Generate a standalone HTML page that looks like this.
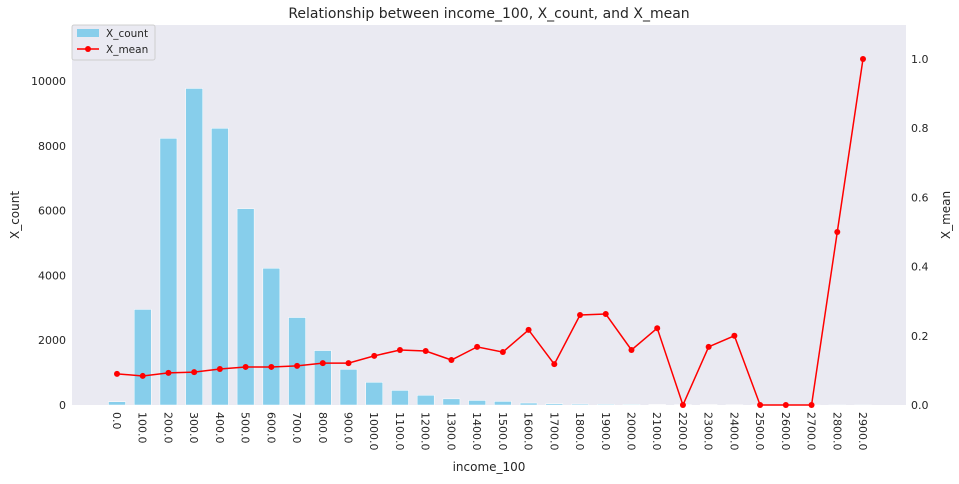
<!DOCTYPE html>
<html><head><meta charset="utf-8"><style>
body{margin:0;background:#fff;font-family:"DejaVu Sans","Liberation Sans",sans-serif;}
svg text{font-family:"DejaVu Sans","Liberation Sans",sans-serif;fill:#262626;}
</style></head><body>
<svg id="chart" width="959" height="480" xmlns="http://www.w3.org/2000/svg">
<rect x="72" y="25" width="834" height="380" fill="#EAEAF2"/>
<g id="bars"></g><g id="line"></g><g id="axes"></g>
<text x="489" y="18" font-size="14" text-anchor="middle">Relationship between income_100, X_count, and X_mean</text>
<text x="489" y="471" font-size="12" text-anchor="middle">income_100</text>
<text transform="translate(19,215) rotate(-90)" font-size="12" text-anchor="middle">X_count</text>
<text transform="translate(950,215) rotate(-90)" font-size="12" text-anchor="middle">X_mean</text>
<g>
<rect x="72" y="25" width="83" height="35" fill="#EAEAF2" stroke="#ccc" opacity="0.9" rx="2"/>
<rect x="77" y="29" width="22" height="8" fill="#87CEEB"/>
<text x="106" y="37" font-size="10.5">X_count</text>
<line x1="77" y1="49" x2="99" y2="49" stroke="red" stroke-width="1.5"/>
<circle cx="88" cy="49" r="3" fill="red"/>
<text x="106" y="53" font-size="10.5">X_mean</text>
</g>
</svg>
<script>
const categories=[0,100,200,300,400,500,600,700,800,900,1000,1100,1200,1300,1400,1500,1600,1700,1800,1900,2000,2100,2200,2300,2400,2500,2600,2700,2800,2900];
const counts=[100,2950,8230,9770,8540,6060,4220,2700,1680,1100,700,450,300,190,140,110,60,40,30,25,20,15,10,12,8,5,4,3,2,1];
const means=[0.09,0.084,0.093,0.095,0.104,0.11,0.11,0.113,0.121,0.121,0.142,0.159,0.156,0.13,0.168,0.153,0.217,0.118,0.26,0.263,0.159,0.222,0,0.168,0.2,0,0,0,0.5,1.0];
const leftTicks=[0,2000,4000,6000,8000,10000];
const rightTicks=[0,0.2,0.4,0.6,0.8,1.0];
const NS="http://www.w3.org/2000/svg";
const x0=117,x1=863,bottom=405;
const xs=i=>x0+(x1-x0)*i/(categories.length-1);
const yL=v=>bottom-v*(324/10000);
const yR=v=>bottom-v*346;
function mk(tag,attrs,parent){const e=document.createElementNS(NS,tag);for(const k in attrs)e.setAttribute(k,attrs[k]);parent.appendChild(e);return e;}
const bars=document.getElementById('bars'),line=document.getElementById('line'),axes=document.getElementById('axes');
const bw=17;
counts.forEach((c,i)=>{const r=mk('rect',{x:xs(i)-bw/2,y:yL(c),width:bw,height:bottom-yL(c),fill:'#87CEEB',stroke:'#fff','stroke-width':0.5},bars);

});
const pts=means.map((m,i)=>xs(i)+','+yR(m)).join(' ');
const pl=mk('polyline',{points:pts,fill:'none',stroke:'red','stroke-width':1.5},line);


means.forEach((m,i)=>{const c=mk('circle',{cx:xs(i),cy:yR(m),r:3,fill:'red'},line);

});
leftTicks.forEach(t=>{const e=mk('text',{x:66,y:yL(t)+4,'font-size':11,'text-anchor':'end'},axes);e.textContent=t;

});
rightTicks.forEach(t=>{const e=mk('text',{x:911,y:yR(t)+4,'font-size':11},axes);e.textContent=t.toFixed(1);

});
categories.forEach((c,i)=>{const e=mk('text',{transform:'translate('+(xs(i)-4)+',412) rotate(90)','font-size':11},axes);e.textContent=c.toFixed(1);

});
</script>
</body></html>
